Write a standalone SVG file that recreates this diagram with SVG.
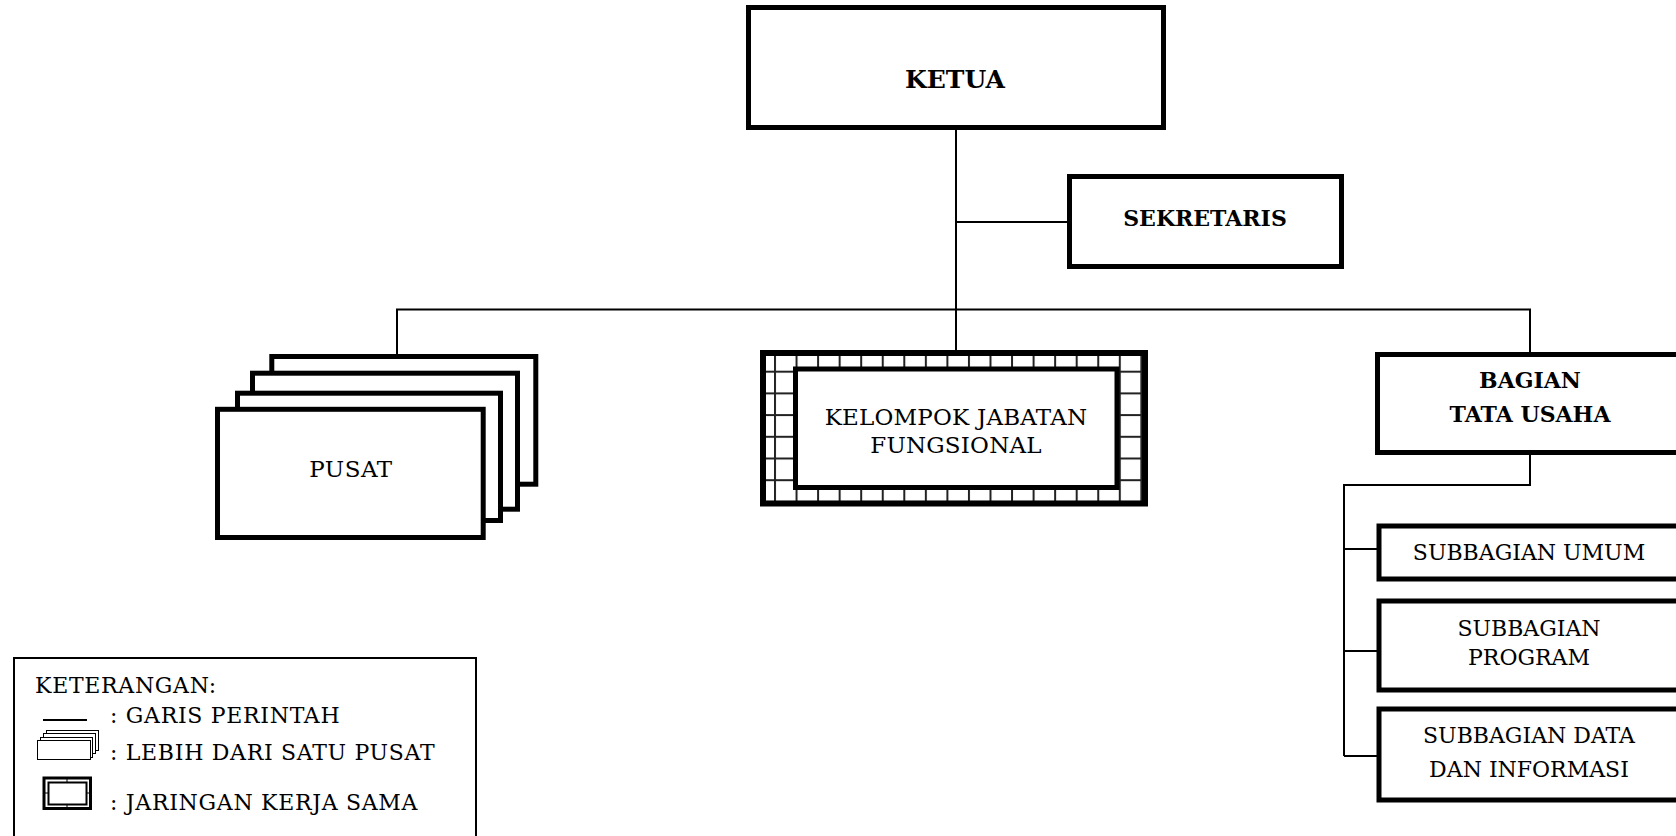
<svg xmlns="http://www.w3.org/2000/svg" width="1676" height="836" viewBox="0 0 1676 836">
<style>
.box{fill:#fff;stroke:#000;stroke-width:5}
.ln{fill:none;stroke:#000;stroke-width:2}
.t{font-family:"DejaVu Serif","Liberation Serif",serif;font-size:22px;fill:#000;text-anchor:middle}
.b{font-weight:bold}
.lg{font-family:"DejaVu Serif","Liberation Serif",serif;font-size:22px;letter-spacing:0.7px;fill:#000}
</style>
<defs>
<pattern id="grid" patternUnits="userSpaceOnUse" x="774" y="349" width="21.55" height="21.7">
<rect x="0" y="0" width="21.55" height="21.7" fill="#fff"/>
<rect x="0" y="0" width="2" height="21.7" fill="#222"/>
<rect x="0" y="0" width="21.55" height="2" fill="#222"/>
</pattern>
</defs>
<rect width="1676" height="836" fill="#fff"/>

<g id="connectors">
<line class="ln" x1="956" y1="130" x2="956" y2="350"/>
<line class="ln" x1="956" y1="222" x2="1067" y2="222"/>
<line class="ln" x1="396" y1="309.5" x2="1531" y2="309.5"/>
<line class="ln" x1="397" y1="309.5" x2="397" y2="354"/>
<line class="ln" x1="1530" y1="309.5" x2="1530" y2="352"/>
<polyline class="ln" points="1530,455 1530,485 1344,485 1344,756"/>
<line class="ln" x1="1344" y1="549" x2="1377" y2="549"/>
<line class="ln" x1="1344" y1="651" x2="1377" y2="651"/>
<line class="ln" x1="1344" y1="756" x2="1377" y2="756"/>
</g>

<g id="ketua">
<rect class="box" x="748.5" y="7.5" width="415" height="120"/>
<text class="t b" x="955" y="88" style="font-size:25px">KETUA</text>
</g>

<g id="sekretaris">
<rect class="box" x="1069.5" y="176.5" width="272" height="90"/>
<text class="t b" x="1205" y="226">SEKRETARIS</text>
</g>

<g id="pusat">
<rect class="box" x="271.8" y="356.5" width="264" height="127.7"/>
<rect class="box" x="252.5" y="373.2" width="265" height="136"/>
<rect class="box" x="237.5" y="393.2" width="263" height="127.3"/>
<rect class="box" x="217.5" y="409.3" width="265.7" height="128.2"/>
<text class="t" x="351" y="477" style="font-size:23px;letter-spacing:0.5px">PUSAT</text>
</g>

<g id="kelompok-jabatan-fungsional">
<rect x="763" y="353" width="382" height="150.5" fill="url(#grid)"/>
<rect x="763" y="353" width="382" height="150.5" fill="none" stroke="#000" stroke-width="6"/>
<rect class="box" x="795.5" y="369" width="321.5" height="118.5"/>
<text class="t" x="956" y="425" style="font-size:23px;letter-spacing:0.2px">KELOMPOK JABATAN</text>
<text class="t" x="956" y="453" style="font-size:23px;letter-spacing:0.2px">FUNGSIONAL</text>
</g>

<g id="bagian-tata-usaha">
<rect class="box" x="1377.5" y="354.5" width="310" height="98"/>
<text class="t b" x="1530" y="388">BAGIAN</text>
<text class="t b" x="1530" y="422">TATA USAHA</text>
</g>

<g id="subbagian-umum">
<rect class="box" x="1379" y="526" width="310" height="53"/>
<text class="t" x="1529" y="560">SUBBAGIAN UMUM</text>
</g>

<g id="subbagian-program">
<rect class="box" x="1379" y="601" width="310" height="89"/>
<text class="t" x="1529" y="636">SUBBAGIAN</text>
<text class="t" x="1529" y="665">PROGRAM</text>
</g>

<g id="subbagian-data">
<rect class="box" x="1379" y="709" width="310" height="91"/>
<text class="t" x="1529" y="743">SUBBAGIAN DATA</text>
<text class="t" x="1529" y="777">DAN INFORMASI</text>
</g>

<g id="legend">
<rect x="14" y="658" width="462" height="200" fill="#fff" stroke="#000" stroke-width="2"/>
<text class="lg" x="35" y="693">KETERANGAN:</text>
<line x1="43" y1="720" x2="87" y2="720" stroke="#000" stroke-width="2"/>
<text class="lg" x="110" y="723">: GARIS PERINTAH</text>
<g fill="#fff" stroke="#000" stroke-width="1">
<rect x="46.5" y="730.5" width="52" height="20"/>
<rect x="43.5" y="733.5" width="52" height="20"/>
<rect x="40.5" y="737.5" width="52" height="20"/>
<rect x="37.5" y="740.5" width="53" height="19"/>
</g>
<text class="lg" x="110" y="760">: LEBIH DARI SATU PUSAT</text>
<rect x="44" y="778" width="46.5" height="30.5" fill="#fff" stroke="#000" stroke-width="3"/>
<rect x="48.5" y="782.5" width="38" height="22" fill="none" stroke="#000" stroke-width="2"/>
<line x1="67" y1="778" x2="67" y2="782" stroke="#000" stroke-width="1"/>
<line x1="67" y1="805" x2="67" y2="809" stroke="#000" stroke-width="1"/>
<line x1="44" y1="793" x2="48" y2="793" stroke="#000" stroke-width="1"/>
<line x1="87" y1="793" x2="91" y2="793" stroke="#000" stroke-width="1"/>
<text class="lg" x="110" y="810">: JARINGAN KERJA SAMA</text>
</g>
</svg>
